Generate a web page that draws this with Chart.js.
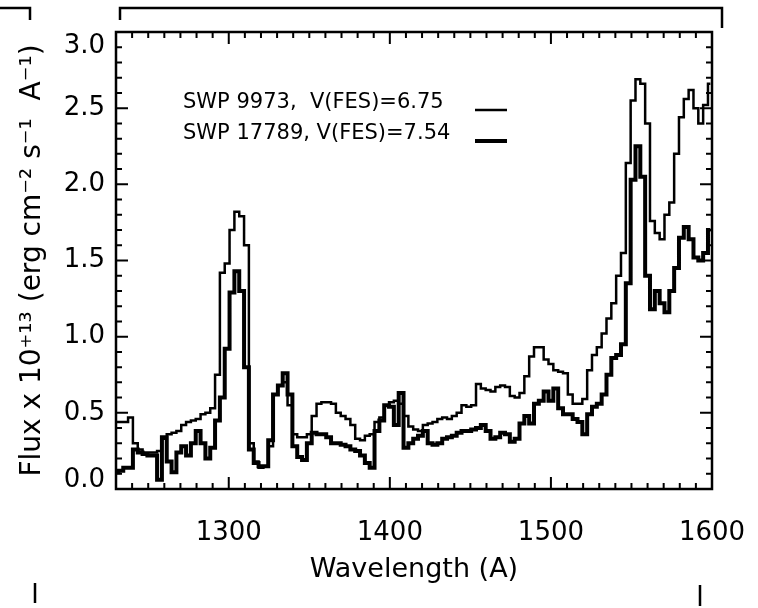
<!DOCTYPE html>
<html>
<head>
<meta charset="utf-8">
<script src="https://cdn.jsdelivr.net/npm/chart.js@4.4.1/dist/chart.umd.min.js"></script>
<style>
  html, body { margin: 0; padding: 0; background: #fff; }
  canvas { display: block; }
</style>
</head>
<body>
<canvas id="myChart" width="758" height="608"></canvas>
<script>
// wavelength grid (A), every 3 A
const wavelength = [
  1230, 1233, 1236, 1239, 1242, 1245, 1248, 1251, 1254, 1257,
  1260, 1263, 1266, 1269, 1272, 1275, 1278, 1281, 1284, 1287,
  1290, 1293, 1296, 1299, 1302, 1305, 1308, 1311, 1314, 1317,
  1320, 1323, 1326, 1329, 1332, 1335, 1338, 1341, 1344, 1347,
  1350, 1353, 1356, 1359, 1362, 1365, 1368, 1371, 1374, 1377,
  1380, 1383, 1386, 1389, 1392, 1395, 1398, 1401, 1404, 1407,
  1410, 1413, 1416, 1419, 1422, 1425, 1428, 1431, 1434, 1437,
  1440, 1443, 1446, 1449, 1452, 1455, 1458, 1461, 1464, 1467,
  1470, 1473, 1476, 1479, 1482, 1485, 1488, 1491, 1494, 1497,
  1500, 1503, 1506, 1509, 1512, 1515, 1518, 1521, 1524, 1527,
  1530, 1533, 1536, 1539, 1542, 1545, 1548, 1551, 1554, 1557,
  1560, 1563, 1566, 1569, 1572, 1575, 1578, 1581, 1584, 1587,
  1590, 1593, 1596, 1599
];

// SWP 9973, V(FES)=6.75
const swp9973 = [
  0.44, 0.44, 0.44, 0.47, 0.30, 0.26, 0.24, 0.24, 0.24, 0.25,
  0.33, 0.36, 0.37, 0.38, 0.42, 0.44, 0.45, 0.46, 0.49, 0.50,
  0.53, 0.75, 1.42, 1.48, 1.70, 1.82, 1.79, 1.60, 0.30, 0.18,
  0.14, 0.15, 0.28, 0.62, 0.68, 0.70, 0.55, 0.36, 0.34, 0.34,
  0.36, 0.48, 0.56, 0.57, 0.57, 0.56, 0.50, 0.48, 0.46, 0.42,
  0.33, 0.32, 0.35, 0.36, 0.44, 0.47, 0.55, 0.57, 0.58, 0.56,
  0.48, 0.41, 0.39, 0.38, 0.42, 0.43, 0.44, 0.46, 0.47, 0.46,
  0.48, 0.50, 0.55, 0.54, 0.55, 0.69, 0.66, 0.65, 0.64, 0.67,
  0.68, 0.67, 0.61, 0.60, 0.63, 0.74, 0.87, 0.93, 0.93, 0.85,
  0.82, 0.78, 0.77, 0.76, 0.62, 0.56, 0.56, 0.59, 0.78, 0.88,
  0.93, 1.02, 1.12, 1.22, 1.40, 1.55, 2.14, 2.55, 2.69, 2.66,
  2.40, 1.76, 1.68, 1.64, 1.80, 1.88, 2.20, 2.44, 2.56, 2.62,
  2.50, 2.40, 2.52, 2.66
];

// SWP 17789, V(FES)=7.54
const swp17789 = [
  0.11, 0.12, 0.14, 0.14, 0.26, 0.24, 0.23, 0.22, 0.22, 0.06,
  0.34, 0.18, 0.11, 0.24, 0.28, 0.22, 0.30, 0.38, 0.30, 0.20,
  0.27, 0.45, 0.60, 0.92, 1.29, 1.43, 1.30, 0.80, 0.26, 0.17,
  0.15, 0.15, 0.32, 0.62, 0.68, 0.76, 0.62, 0.28, 0.21, 0.19,
  0.30, 0.37, 0.36, 0.36, 0.34, 0.30, 0.30, 0.29, 0.28, 0.26,
  0.25, 0.22, 0.17, 0.14, 0.38, 0.45, 0.55, 0.54, 0.42, 0.63,
  0.27, 0.30, 0.33, 0.35, 0.38, 0.30, 0.29, 0.30, 0.33, 0.34,
  0.35, 0.37, 0.38, 0.38, 0.39, 0.40, 0.42, 0.38, 0.33, 0.34,
  0.37, 0.36, 0.31, 0.33, 0.43, 0.48, 0.43, 0.56, 0.58, 0.64,
  0.58, 0.66, 0.53, 0.49, 0.49, 0.46, 0.44, 0.36, 0.49, 0.54,
  0.56, 0.62, 0.75, 0.86, 0.88, 0.95, 1.35, 2.03, 2.25, 2.05,
  1.40, 1.18, 1.30, 1.22, 1.16, 1.30, 1.45, 1.65, 1.72, 1.64,
  1.52, 1.50, 1.55, 1.70
];

const xTicks = [1300, 1400, 1500, 1600];
const yTicks = [0, 0.5, 1.0, 1.5, 2.0, 2.5, 3.0];

Chart.defaults.font.family = "'DejaVu Sans'";
Chart.defaults.color = '#000';

// frame with inward ticks, y labels, legend and the scan's crop marks
const decorations = {
  id: 'decorations',
  afterDatasetsDraw(chart) {
    const { ctx, chartArea: a, scales: { x, y } } = chart;
    ctx.save();
    ctx.strokeStyle = '#000';
    ctx.fillStyle = '#000';

    ctx.lineWidth = 2.5;
    ctx.strokeRect(a.left, a.top, a.right - a.left, a.bottom - a.top);

    ctx.lineWidth = 2;
    ctx.beginPath();
    for (let w = 1240; w < 1600; w += 10) {
      const px = x.getPixelForValue(w);
      const len = w % 100 === 0 ? 12 : 6;
      ctx.moveTo(px, a.bottom); ctx.lineTo(px, a.bottom - len);
      ctx.moveTo(px, a.top); ctx.lineTo(px, a.top + len);
    }
    for (let k = 1; k < 30; k++) {
      const py = y.getPixelForValue(k / 10);
      const len = k % 5 === 0 ? 12 : 6;
      ctx.moveTo(a.left, py); ctx.lineTo(a.left + len, py);
      ctx.moveTo(a.right, py); ctx.lineTo(a.right - len, py);
    }
    ctx.stroke();

    // end labels are kept inside the box, like the original
    ctx.font = "26px 'DejaVu Sans'";
    ctx.textAlign = 'right';
    ctx.textBaseline = 'middle';
    yTicks.forEach(v => {
      const py = Math.min(Math.max(y.getPixelForValue(v), a.top + 14), a.bottom - 9);
      ctx.fillText(v.toFixed(1), a.left - 11, py);
    });

    ctx.font = "21px 'DejaVu Sans'";
    ctx.textAlign = 'left';
    chart.data.datasets.forEach((ds, i) => {
      const ty = a.top + 71 + i * 31;
      ctx.fillText(ds.label, a.left + 67, ty);
      ctx.lineWidth = ds.borderWidth;
      ctx.beginPath();
      ctx.moveTo(a.left + 359, ty + 7);
      ctx.lineTo(a.left + 391, ty + 7);
      ctx.stroke();
    });

    ctx.lineWidth = 2.5;
    const marks = [
      [[0, 8], [30, 8], [30, 20]],
      [[120, 20], [120, 8], [722, 8], [722, 28]],
      [[35, 583], [35, 603]],
      [[700, 585], [700, 606]]
    ];
    marks.forEach(m => {
      ctx.beginPath();
      m.forEach((p, j) => j ? ctx.lineTo(p[0], p[1]) : ctx.moveTo(p[0], p[1]));
      ctx.stroke();
    });
    ctx.restore();
  }
};

const toPoints = vals => wavelength.map((w, i) => ({ x: w, y: vals[i] }));

const data = {
  datasets: [{
    label: 'SWP 9973,  V(FES)=6.75',
    data: toPoints(swp9973),
    borderColor: '#000',
    borderWidth: 2.5,
    stepped: 'middle',
    pointRadius: 0,
    fill: false
  }, {
    label: 'SWP 17789, V(FES)=7.54',
    data: toPoints(swp17789),
    borderColor: '#000',
    borderWidth: 4,
    stepped: 'middle',
    pointRadius: 0,
    fill: false
  }]
};

const config = {
  type: 'line',
  data: data,
  options: {
    responsive: false,
    devicePixelRatio: 1,
    animation: false,
    layout: { padding: { top: 32, right: 46, left: 0, bottom: 0 } },
    plugins: {
      legend: { display: false },
      tooltip: { enabled: false }
    },
    scales: {
      x: {
        type: 'linear',
        min: 1230,
        max: 1600,
        grid: { display: false },
        border: { display: false },
        afterBuildTicks: s => { s.ticks = xTicks.map(v => ({ value: v })); },
        ticks: {
          font: { size: 26 },
          padding: 21,
          maxRotation: 0,
          autoSkip: false,
          callback: v => String(v)
        },
        title: {
          display: true,
          text: 'Wavelength (A)',
          font: { size: 27 },
          padding: { top: 0, bottom: 22 }
        },
        afterFit: s => {
          s.height = 119;
          // let the 1600 label hang into the right margin
          s.paddingLeft = 0;
          s.paddingRight = 0;
        }
      },
      y: {
        min: 0,
        max: 3,
        grid: { display: false },
        border: { display: false },
        ticks: { display: false },
        title: {
          display: true,
          text: 'Flux x 10\u207A\u00B9\u00B3 (erg cm\u207B\u00B2 s\u207B\u00B9  A\u207B\u00B9)',
          font: { size: 28 },
          padding: { top: 16, bottom: 0 }
        },
        afterFit: s => { s.width = 116; }
      }
    }
  },
  plugins: [decorations]
};

const myChart = new Chart(document.getElementById('myChart'), config);
</script>
</body>
</html>
